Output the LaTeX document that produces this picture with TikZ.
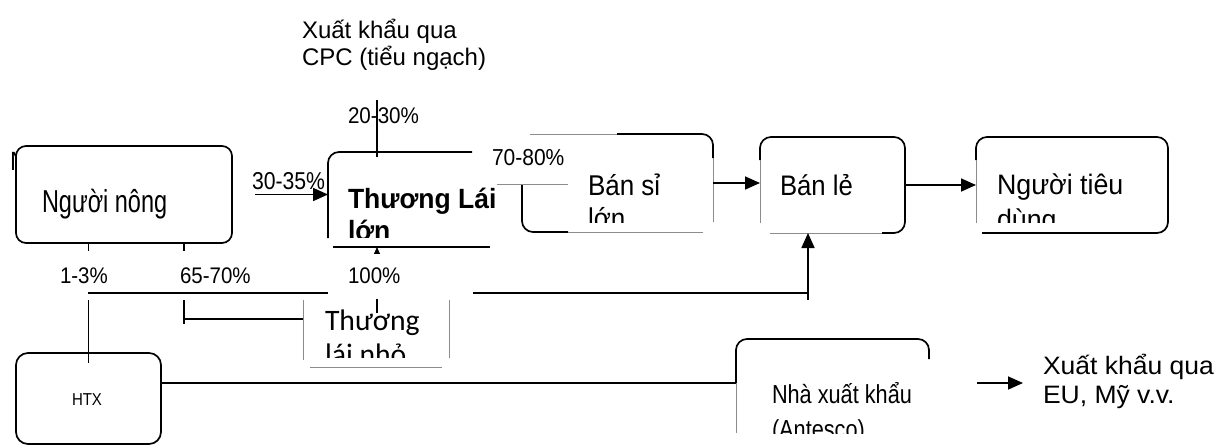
\documentclass[tikz,border=0pt]{standalone}
\usepackage{fontspec}
\setmainfont{Liberation Sans}
\newfontfamily\calibfont{Carlito}
\usepackage{graphicx}
\usetikzlibrary{arrows.meta}
\newcommand\mytxt[3]{\scalebox{1}[#2]{\fontsize{#1}{#1}\selectfont #3}}
\begin{document}
\begin{tikzpicture}[x=1pt,y=-1pt,
  lbl/.style={anchor=base west,inner sep=0pt,outer sep=0pt},
  boxshape/.style={rectangle,inner sep=0pt,outer sep=0pt,draw=none},
  edge/.style={line width=1.7pt},
  thinl/.style={line width=0.8pt,draw=black!45},
  arr/.style={line width=1.7pt,-{Triangle[length=15pt,width=13pt]}},
  rc/.style={rounded corners=11pt}
]
\useasboundingbox (0,0) rectangle (1218,445);

% box shapes (named)
\node[boxshape,minimum width=172pt,minimum height=95pt] (tll) at (414,199.5) {};
\node[boxshape,minimum width=191pt,minimum height=98pt] (bsl) at (617.5,183) {};
\node[boxshape,minimum width=145pt,minimum height=96pt] (bl) at (832.5,185) {};
\node[boxshape,minimum width=192pt,minimum height=96pt] (ntd) at (1072,185) {};
\node[boxshape,minimum width=146pt,minimum height=67pt] (tln) at (376,333.5) {};
\node[boxshape,minimum width=193pt,minimum height=94pt] (nxk) at (832.5,386) {};

% top label
\node[lbl] (cpc1) at (302,38) {\mytxt{24}{1.0}{Xuất khẩu qua}};
\node[lbl] (cpc2) at (302,65) {\mytxt{24}{1.0}{CPC (tiểu ngạch)}};

% Nguoi nong box
\node[lbl] (ncut) at (10,170) {\mytxt{24}{1.1}{N}};
\node[boxshape,draw,fill=white,edge,rounded corners=10pt,minimum width=216pt,minimum height=97pt] (nn) at (124,194.5) {};
\node[lbl] (tnn) at (42,212) {\mytxt{23.5}{1.35}{Người nông}};

% Thuong Lai lon
\draw[edge,rc] (472,152) -- (328,152) -- (328,238);
\draw[edge] (333,247) -- (490,247);
\node[lbl] (ttll1) at (348,208) {\mytxt{26.5}{1.05}{\bfseries Thương Lái}};
\begin{scope}
\clip (330,150) rectangle (500,237);
\node[lbl] (ttll2) at (348,240) {\mytxt{26.5}{1.05}{\bfseries lớn}};
\end{scope}

% 30-35%
\node[lbl] (l3035) at (252,189) {\mytxt{21.2}{1.15}{30-35\%}};
\draw[arr] ([xshift=23pt]nn.east) -- (nn.east -| tll.west);

% 20-30%
\node[lbl] (l2030) at (348,123) {\mytxt{20.6}{1.1}{20-30\%}};
\coordinate (c2030) at (377,100);
\draw[edge] (c2030) -- (c2030 |- tll.north) -- ++(0,5);

% Ban si lon
\node[lbl] (l7080) at (492,165) {\mytxt{21}{1.1}{70-80\%}};
\draw[thinl] (530,134) -- (617,134);
\draw[edge,rc] (617,134) -- (713,134) -- (713,158);
\draw[thinl] (713,158) -- (713,222);
\draw[edge,rc] (522,184) -- (522,232) -- (568,232);
\draw[thinl] (568,232) -- (703,232);
\draw[thinl] (497,184) -- (568,184);
\node[lbl] (tbsl1) at (588,195) {\mytxt{26}{1.1}{Bán sỉ}};
\begin{scope}
\clip (525,140) rectangle (710,222);
\node[lbl] (tbsl2) at (588,228) {\mytxt{26}{1.1}{lớn}};
\end{scope}
\draw[arr] (bsl.east) -- (bsl.east -| bl.west);

% Ban le
\draw[edge,rc] (760,160) -- (760,137) -- (905,137) -- (905,233) -- (882,233);
\draw[thinl] (760,160) -- (760,223);
\draw[thinl] (770,233) -- (882,233);
\node[lbl] (tbl) at (780,195) {\mytxt{25.7}{1.1}{Bán lẻ}};
\draw[arr] (bl.east) -- (ntd.west);

% Nguoi tieu dung
\draw[edge,rc] (976,160) -- (976,137) -- (1168,137) -- (1168,233) -- (982,233);
\draw[thinl] (976,160) -- (976,223);
\node[lbl] (tntd1) at (997,194) {\mytxt{26.8}{1.05}{Người tiêu}};
\begin{scope}
\clip (980,140) rectangle (1165,222);
\node[lbl] (tntd2) at (997,229) {\mytxt{26.8}{1.05}{dùng}};
\end{scope}

% HTX box and ticks under Nguoi nong
\node[boxshape,draw,edge,rounded corners=12pt,minimum width=145pt,minimum height=91pt] (htx) at (88.5,398.5) {};
\draw[edge] (htx.north |- nn.south) -- ++(0,8);
\coordinate (k65) at (184,243);
\draw[edge] (k65) -- ++(0,8);

% long line to Ban le
\draw[edge] (88,293) -- (328,293);
\coordinate (jr) at (808,300);
\draw[arr] (473,293) -- (808,293) -- (jr |- bl.south);
\draw[edge] (808,292) -- (jr);

% 100% arrow to Thuong Lai lon
\coordinate (c100) at (377,313);
\draw[arr] (c100) -- (c100 |- tll.south);
\fill[white] (329,253.5) rectangle (472,299);

% percentage labels
\node[lbl] (l13) at (60,283) {\mytxt{20.5}{1.1}{1-3\%}};
\node[lbl] (l6570) at (180,283) {\mytxt{20.5}{1.1}{65-70\%}};
\node[lbl] (l100) at (348,283) {\mytxt{20.5}{1.1}{100\%}};

% Thuong lai nho
\draw[thinl] (303,300) -- (303,360);
\draw[thinl] (310,367) -- (442,367);
\draw[thinl] (449,300) -- (449,358);
\node[lbl] (ttln1) at (325,330) {\calibfont\mytxt{29.7}{1.0}{Thương}};
\begin{scope}
\clip (305,300) rectangle (447,357);
\node[lbl] (ttln2) at (325,364) {\calibfont\mytxt{29.7}{1.0}{lái nhỏ}};
\end{scope}
\draw[edge] (377,300) -- (c100);
\draw[edge] (184,300) -- (184,324);
\coordinate (b65) at (184,319);
\draw[edge] (b65) -- (b65 -| tln.west);

% HTX
\draw[edge] (88.5,300) -- (htx.north) -- ++(0,10);
\node[lbl] (thtx) at (72,405) {\mytxt{15}{1.15}{HTX}};

% HTX -> Nha xuat khau
\coordinate (h1) at (161,383);
\draw[edge] (htx.east |- h1) -- (h1 -| nxk.west);
\draw[edge,rc] (736,383) -- (736,339) -- (929,339) -- (929,359);
\draw[thinl] (736,383) -- (736,433);
\node[lbl] (tnxk1) at (772,403) {\mytxt{21.7}{1.2}{Nhà xuất khẩu}};
\begin{scope}
\clip (738,340) rectangle (927,433);
\node[lbl] (tnxk2) at (772,438) {\mytxt{21.7}{1.2}{(Antesco)}};
\end{scope}

% export
\coordinate (e1) at (977,383);
\draw[arr] (e1) -- ++(46,0);
\node[lbl] (teu1) at (1043,374) {\mytxt{26.5}{0.95}{Xuất khẩu qua}};
\node[lbl] (teu2) at (1043,403) {\mytxt{26.5}{0.95}{EU, Mỹ v.v.}};
\end{tikzpicture}
\end{document}
